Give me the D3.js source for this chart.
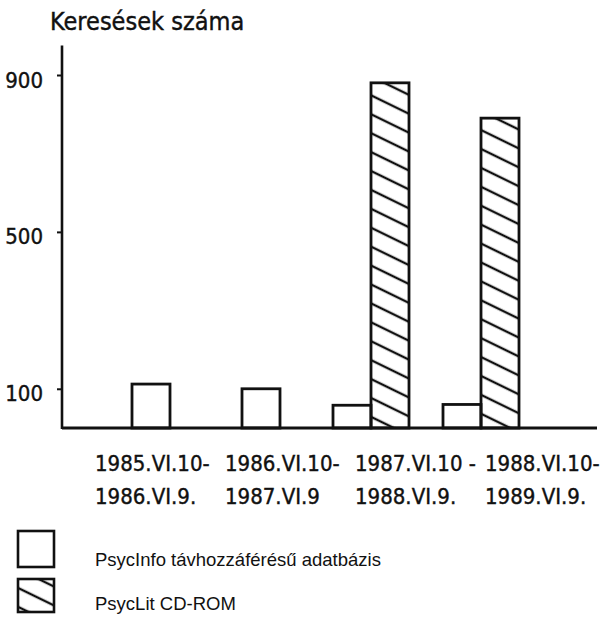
<!DOCTYPE html>
<html>
<head>
<meta charset="utf-8">
<script src="https://cdn.jsdelivr.net/npm/d3@7"></script>
<style>
	body { margin: 0; background: #fff; }
	.din { font-family: 'DejaVu Sans Condensed', 'DejaVu Sans', sans-serif; font-stretch: condensed; fill: #111; stroke: #111; stroke-width: 0.4; }
	.legend { font-family: 'Liberation Sans', Arial, sans-serif; fill: #111; }
</style>
</head>
<body>
<div id="chart"></div>
<script>
// data
const periodStart = ['1985.VI.10-', '1986.VI.10-', '1987.VI.10 -', '1988.VI.10-'];
const periodEnd = ['1986.VI.9.', '1987.VI.9', '1988.VI.9.', '1989.VI.9.'];
const psycInfo = [112, 100, 58, 60];
const psycLit = [null, null, 880, 790];
const yTicks = [100, 500, 900];
const yAxisTop = 975;
const seriesNames = ['PsycInfo távhozzáférésű adatbázis', 'PsycLit CD-ROM'];
const yTitle = 'Keresések száma';

const width = 600, height = 624;
const ink = '#111';
const barW = 38;

const svg = d3
	.select('#chart')
	.append('svg')
	.attr('width', width)
	.attr('height', height);

// hatch pattern for the CD-ROM bars
svg.append('defs')
	.append('pattern')
	.attr('id', 'hatch')
	.attr('patternUnits', 'userSpaceOnUse')
	.attr('width', 20)
	.attr('height', 17)
	.attr('patternTransform', 'rotate(26)')
	.append('line')
	.attr('x1', -2)
	.attr('x2', 22)
	.attr('y1', 8)
	.attr('y2', 8)
	.attr('stroke', ink)
	.attr('stroke-width', 2.4);

const y = d3.scaleLinear().domain([0, 900]).range([428, 75]);
const idx = d3.range(periodStart.length);
const xBar = d3.scaleBand().domain(idx).range([96, 536]);
const xLabel = d3.scaleBand().domain(idx).range([95, 615]);
const axisX = 62;

// title
svg.append('text')
	.attr('class', 'din')
	.attr('x', 50)
	.attr('y', 30)
	.attr('font-size', 25)
	.text(yTitle);

// Y axis
const yAxis = svg.append('g')
	.attr('transform', `translate(${axisX},0)`)
	.call(d3.axisLeft(y).tickValues(yTicks).tickSize(5).tickPadding(14));
yAxis.select('.domain').remove();
yAxis.selectAll('.tick line').attr('stroke', ink).attr('stroke-width', 2);
yAxis.selectAll('.tick text')
	.attr('class', 'din')
	.attr('font-size', 22)
	.attr('dy', '0.55em');

svg.append('line')
	.attr('x1', axisX).attr('x2', axisX)
	.attr('y1', y(0) + 1).attr('y2', y(yAxisTop))
	.attr('stroke', ink).attr('stroke-width', 2.6);

// bars
const groups = svg.selectAll('g.period')
	.data(idx)
	.enter()
	.append('g')
	.attr('class', 'period');

groups.append('rect')
	.attr('x', (i) => xBar(i) + xBar.bandwidth() / 2 - (psycLit[i] == null ? barW / 2 : barW))
	.attr('y', (i) => y(psycInfo[i]))
	.attr('width', barW)
	.attr('height', (i) => y(0) - y(psycInfo[i]))
	.attr('fill', '#fff')
	.attr('stroke', ink)
	.attr('stroke-width', 2.8);

groups.filter((i) => psycLit[i] != null)
	.append('rect')
	.attr('x', (i) => xBar(i) + xBar.bandwidth() / 2)
	.attr('y', (i) => y(psycLit[i]))
	.attr('width', barW)
	.attr('height', (i) => y(0) - y(psycLit[i]))
	.attr('fill', 'url(#hatch)')
	.attr('stroke', ink)
	.attr('stroke-width', 2.8);

// X axis line
svg.append('line')
	.attr('x1', axisX).attr('x2', 597)
	.attr('y1', y(0)).attr('y2', y(0))
	.attr('stroke', ink).attr('stroke-width', 2.8);

// period labels, two lines each
const labels = svg.selectAll('text.period')
	.data(idx)
	.enter()
	.append('text')
	.attr('class', 'din')
	.attr('font-size', 22)
	.attr('transform', (i) => `translate(${xLabel(i)},${y(0) + 43})`);
labels.append('tspan').attr('x', 0).attr('y', 0).text((i) => periodStart[i]);
labels.append('tspan').attr('x', 0).attr('y', 33).text((i) => periodEnd[i]);

// legend
const legend = svg.selectAll('g.legend')
	.data(seriesNames)
	.enter()
	.append('g')
	.attr('transform', (d, i) => `translate(18,${531 + i * 48})`);
legend.append('rect')
	.attr('width', 36)
	.attr('height', (d, i) => (i === 0 ? 36 : 33))
	.attr('fill', (d, i) => (i === 0 ? '#fff' : 'url(#hatch)'))
	.attr('stroke', ink)
	.attr('stroke-width', 2.6);
legend.append('text')
	.attr('class', 'legend')
	.attr('x', 77)
	.attr('y', (d, i) => (i === 0 ? 35 : 31))
	.attr('font-size', 18.5)
	.text((d) => d);
</script>
</body>
</html>
